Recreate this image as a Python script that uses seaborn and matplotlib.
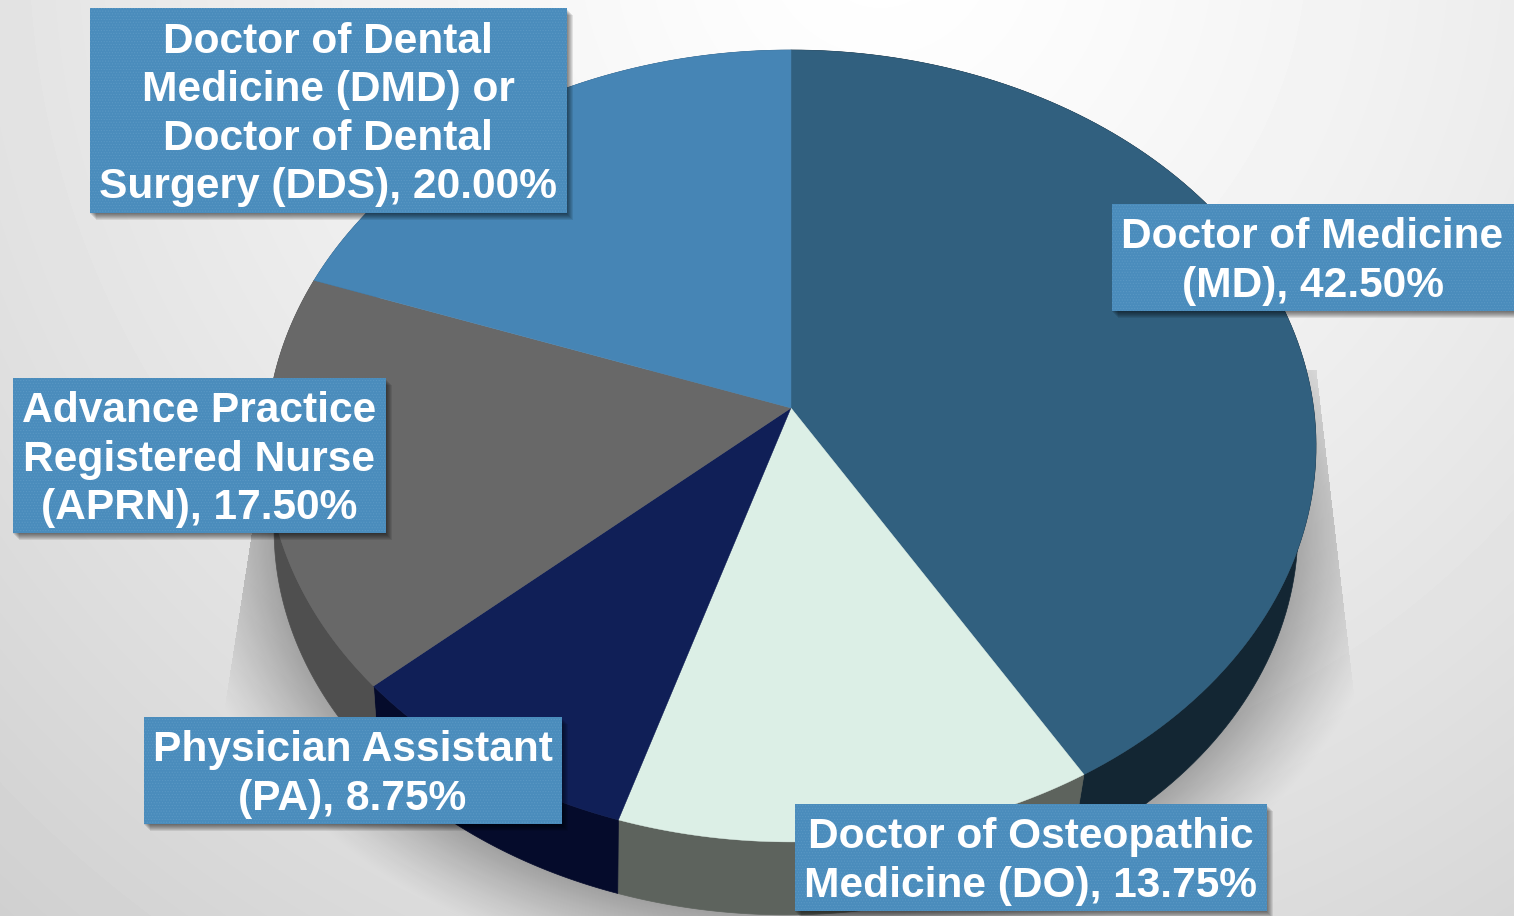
import numpy as np
import matplotlib
matplotlib.use('Agg')
import matplotlib.pyplot as plt
from matplotlib.patches import Rectangle
import seaborn as sns

# Data
names = ['Doctor of Medicine\n(MD)',
         'Doctor of Osteopathic\nMedicine (DO)',
         'Physician Assistant\n(PA)',
         'Advance Practice\nRegistered Nurse\n(APRN)',
         'Doctor of Dental\nMedicine (DMD) or\nDoctor of Dental\nSurgery (DDS)']
shares = [42.50, 13.75, 8.75, 17.50, 20.00]
# slice sizes as they appear on the tilted disc
drawn_pct = [41.4, 13.45, 8.6, 17.0, 19.55]
top_colors = ['#31607f', '#dcefe6', '#101f57', '#686868', '#4685b5']
side_colors = ['#132633', '#5d635d', '#050b2b', '#4f4f4f', '#2f5a7c']
label_boxes = [(1112, 204, 402, 107), (795, 804, 472, 107), (144, 717, 418, 107),
               (13, 378, 373, 155), (90, 8, 477, 205)]

sns.set_theme(style='white')
plt.rcParams['font.family'] = ['Liberation Sans', 'DejaVu Sans']
plt.rcParams['hatch.linewidth'] = 0.5
top_pal = sns.color_palette(top_colors)
side_pal = sns.color_palette(side_colors)

W, H = 1514, 916
fig = plt.figure(figsize=(W / 100, H / 100), dpi=100)
ax = fig.add_axes([0, 0, 1, 1])


def top_ring(t):
    # circle seen in perspective, hub at (791, 408)
    u, v = np.sin(t), np.cos(t)
    w = 1 + 0.0959 * v
    return 791 + 522.6 * u / w, 408 - 392.3 * v / w


def bottom_ring(t):
    x, y = top_ring(t)
    return 786 + 0.975 * (x - 791), 530 + 0.972 * (y - 446)


# background
yy, xx = np.mgrid[0:H, 0:W]
dist = np.hypot(xx - 880, yy + 60) / 1000
ax.imshow(1 - 0.13 * dist ** 1.3, cmap='gray', vmin=0, vmax=1, extent=(0, W, H, 0),
          aspect='auto', zorder=0)

# soft shadow under the disc, cut off by two slanted lines at the sides
r = np.hypot((xx - 786) / 512, (yy - 530) / 385)
fade = np.clip(1 - (r - 1) * 450 / 88, 0, 1) ** 1.2
inside = (xx <= 1316 + (yy - 370) * 36 / 310) & (xx >= 272 - (yy - 400) * 42 / 270) & (yy >= 370)
rgba = np.zeros(xx.shape + (4,))
rgba[..., 3] = 0.28 * fade * inside
ax.imshow(rgba, extent=(0, W, H, 0), aspect='auto', zorder=1)

edges = np.cumsum([0] + drawn_pct) / 100 * 2 * np.pi

# sides, then top faces
for i in range(len(drawn_pct)):
    t = np.linspace(edges[i], edges[i + 1], 120)
    x1, y1 = top_ring(t)
    x2, y2 = bottom_ring(t)
    ax.fill(np.r_[x1, x2[::-1]], np.r_[y1, y2[::-1]], color=side_pal[i], lw=0.5, zorder=2)
for i in range(len(drawn_pct)):
    t = np.linspace(edges[i], edges[i + 1], 120)
    x1, y1 = top_ring(t)
    ax.fill(np.r_[791, x1], np.r_[408, y1], color=top_pal[i], lw=0.3, zorder=3)

# data labels
for name, share, (x, y, w, h) in zip(names, shares, label_boxes):
    for d in range(1, 8):
        ax.add_patch(Rectangle((x + d - 1, y + d), w, h, color='black', alpha=0.09, lw=0, zorder=4))
    ax.add_patch(Rectangle((x, y), w, h, facecolor='#4a8cbc', edgecolor='#5a98c4',
                           hatch='......', lw=0, zorder=5))
    ax.text(x + w / 2 - 0.5, y + h / 2 + 4, f'{name}, {share:.2f}%', ha='center', va='center',
            color='white', fontsize=30.6, fontweight='bold', linespacing=1.265, zorder=6)

ax.set_xlim(0, W)
ax.set_ylim(H, 0)
ax.axis('off')
fig.savefig('out.png', dpi=100)
